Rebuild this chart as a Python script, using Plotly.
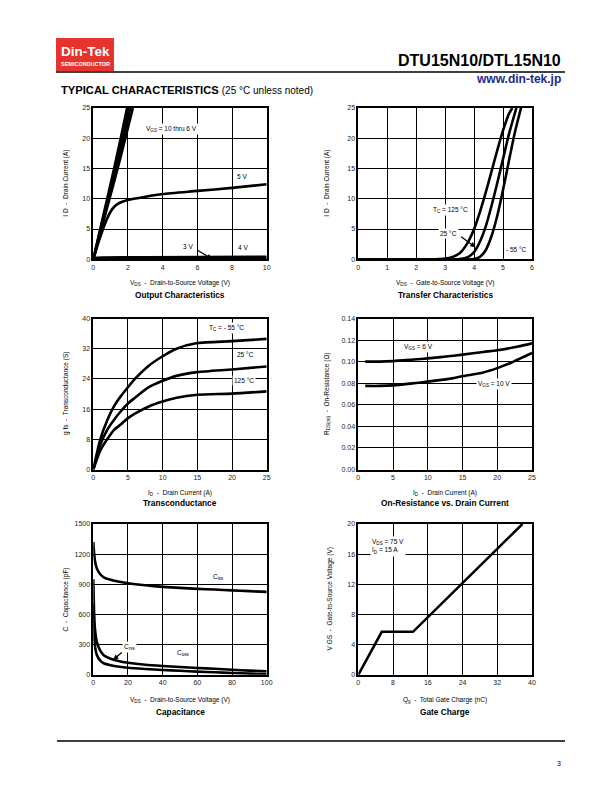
import plotly.graph_objects as go

W, H = 612, 792
FONT = "Liberation Sans, Arial, sans-serif"

# ---------------- DATA ----------------
# Output characteristics (VDS, ID)
out_vgs_high_x = [0, 0.4, 0.8, 1.2, 1.58, 1.95]
out_vgs_high_y = [0, 5, 10, 15, 20, 25]
out_vgs_high_scales = [1.0, 1.05, 1.1, 1.17]   # 10 V, 8 V, 7 V, 6 V bundle
out_5v_x = [0, 0.25, 0.5, 0.75, 1.0, 1.25, 1.5, 2.0, 3.0, 4.0, 6.0, 8.0, 10.0]
out_5v_y = [0, 2.4, 4.5, 6.4, 7.9, 8.8, 9.3, 9.8, 10.35, 10.8, 11.3, 11.8, 12.4]
out_4v_x = [0, 0.2, 0.5, 3.0, 10.0]
out_4v_y = [0, 0.25, 0.3, 0.35, 0.4]
out_3v_x = [0, 10]
out_3v_y = [0.05, 0.05]

# Transfer characteristics (VGS, ID)
tr_125_x = [0, 2.8, 3.2, 3.5, 3.75, 4.0, 4.2, 4.4, 4.6, 4.8, 5.0, 5.2, 5.32]
tr_125_y = [0, 0.05, 0.3, 1.0, 2.5, 5.0, 7.8, 11.0, 14.5, 18.0, 21.3, 24.0, 25.0]
tr_25_x = [0, 3.5, 3.8, 4.0, 4.2, 4.4, 4.6, 4.8, 5.0, 5.2, 5.46]
tr_25_y = [0, 0.05, 0.4, 1.2, 2.9, 5.4, 8.8, 12.6, 16.6, 20.6, 25.0]
tr_m55_x = [0, 4.0, 4.2, 4.4, 4.6, 4.8, 5.0, 5.2, 5.4, 5.62]
tr_m55_y = [0, 0.05, 0.4, 1.5, 3.8, 7.2, 11.5, 16.2, 20.8, 25.0]

# Transconductance (ID, gfs)
gfs_id = [0, 1, 2, 3, 4, 5, 6, 8, 10, 12, 15, 20, 25]
gfs_m55 = [0, 8, 13, 16.8, 19.5, 21.8, 24, 27.5, 30, 32, 33.5, 34, 34.6]
gfs_25 = [0, 6.5, 10.5, 13.2, 15.5, 17.5, 19, 21.8, 23.5, 24.8, 25.8, 26.5, 27.3]
gfs_125 = [0, 5, 8, 10.5, 12, 13.6, 14.8, 16.7, 18, 19, 19.8, 20.1, 20.7]

# On-resistance (ID, RDS(on))
rds_6v_x = [1, 3, 5, 8, 10, 13, 15, 18, 20, 23, 25]
rds_6v_y = [0.100, 0.100, 0.1005, 0.102, 0.103, 0.105, 0.1065, 0.109, 0.1105, 0.114, 0.117]
rds_10v_x = [1, 3, 5, 8, 10, 13, 15, 18, 20, 22, 24, 25]
rds_10v_y = [0.0775, 0.0775, 0.078, 0.080, 0.0815, 0.084, 0.0865, 0.090, 0.094, 0.099, 0.105, 0.108]

# Capacitance (VDS, pF)
cap_vds = [0, 0.5, 1, 2, 4, 6, 10, 15, 20, 30, 40, 50, 60, 70, 80, 90, 100]
cap_ciss = [1320, 1200, 1130, 1060, 1000, 970, 945, 925, 910, 890, 875, 865, 855, 848, 840, 832, 825]
cap_coss = [950, 600, 450, 330, 240, 195, 160, 135, 120, 100, 88, 78, 68, 60, 50, 42, 35]
cap_crss = [700, 400, 280, 200, 140, 115, 95, 80, 70, 58, 48, 40, 32, 25, 18, 12, 8]

# Gate charge (Qg, VGS)
gc_qg = [0, 5.4, 12.6, 37.8]
gc_vgs = [0, 5.7, 5.7, 20]

# Tick values
tick_out_x = [0, 2, 4, 6, 8, 10]
tick_out_y = [0, 5, 10, 15, 20, 25]
tick_tr_x = [0, 1, 2, 3, 4, 5, 6]
tick_gfs_x = [0, 5, 10, 15, 20, 25]
tick_gfs_y = [0, 8, 16, 24, 32, 40]
tick_rds_y = [0.00, 0.02, 0.04, 0.06, 0.08, 0.10, 0.12, 0.14]
tick_rds_ylab = ["0.00", "0.02", "0.04", "0.06", "0.08", "0.10", "0.12", "0.14"]
tick_cap_x = [0, 20, 40, 60, 80, 100]
tick_cap_y = [0, 300, 600, 900, 1200, 1500]
tick_gc_x = [0, 8, 16, 24, 32, 40]
tick_gc_y = [0, 4, 8, 12, 16, 20]

# ---------------- LAYOUT HELPERS ----------------
def px(x):
    return x / W


def py(y):
    return 1 - y / H


LX = [93.3, 266.7]
RX = [358.3, 532.0]
ROWS = [[108, 259.3], [318.5, 469.5], [524, 674.8]]

fig = go.Figure()
LW = 2.6

def line(x, y, ax):
    xa = "x" if ax == 1 else f"x{ax}"
    ya = "y" if ax == 1 else f"y{ax}"
    fig.add_trace(go.Scatter(x=x, y=y, mode="lines", xaxis=xa, yaxis=ya,
                             line=dict(color="black", width=LW, shape="spline", smoothing=0.6),
                             showlegend=False, hoverinfo="skip"))

# Plot 1
for s in out_vgs_high_scales:
    line([v * s for v in out_vgs_high_x], out_vgs_high_y, 1)
line(out_5v_x, out_5v_y, 1)
line(out_4v_x, out_4v_y, 1)
line(out_3v_x, out_3v_y, 1)
# Plot 2
line(tr_125_x, tr_125_y, 2)
line(tr_25_x, tr_25_y, 2)
line(tr_m55_x, tr_m55_y, 2)
# Plot 3
line(gfs_id, gfs_m55, 3)
line(gfs_id, gfs_25, 3)
line(gfs_id, gfs_125, 3)
# Plot 4
line(rds_6v_x, rds_6v_y, 4)
line(rds_10v_x, rds_10v_y, 4)
# Plot 5
line(cap_vds, cap_ciss, 5)
line(cap_vds, cap_coss, 5)
line(cap_vds, cap_crss, 5)
# Plot 6
fig.add_trace(go.Scatter(x=gc_qg, y=gc_vgs, mode="lines", xaxis="x6", yaxis="y6",
                         line=dict(color="black", width=LW), showlegend=False, hoverinfo="skip"))

tickfont = dict(family=FONT, size=7, color="#222222")

def axis(domain_px, rng, tv, tt=None, is_x=True):
    if is_x:
        dom = [px(domain_px[0]), px(domain_px[1])]
    else:
        dom = [py(domain_px[1]), py(domain_px[0])]
    d = dict(domain=dom, range=rng, tickvals=tv, showgrid=True, gridcolor="black", gridwidth=1.2,
             zeroline=False, showline=True, mirror=True, linecolor="black", linewidth=1.6,
             ticks="", tickfont=tickfont, fixedrange=True, ticklen=0, automargin=False)
    if tt is not None:
        d["ticktext"] = tt
    return d

specs = [
    (LX, ROWS[0], [0, 10], tick_out_x, [0, 25], tick_out_y, None),
    (RX, ROWS[0], [0, 6], tick_tr_x, [0, 25], tick_out_y, None),
    (LX, ROWS[1], [0, 25], tick_gfs_x, [0, 40], tick_gfs_y, None),
    (RX, ROWS[1], [0, 25], tick_gfs_x, [0, 0.14], tick_rds_y, tick_rds_ylab),
    (LX, ROWS[2], [0, 100], tick_cap_x, [0, 1500], tick_cap_y, None),
    (RX, ROWS[2], [0, 40], tick_gc_x, [0, 20], tick_gc_y, None),
]
layout = {}
for i, (xd, yd, xr, xt, yr, yt, ytt) in enumerate(specs, start=1):
    xk = "xaxis" if i == 1 else f"xaxis{i}"
    yk = "yaxis" if i == 1 else f"yaxis{i}"
    xa = axis(xd, xr, xt, None, True)
    ya = axis(yd, yr, yt, ytt, False)
    xa["anchor"] = "y" if i == 1 else f"y{i}"
    ya["anchor"] = "x" if i == 1 else f"x{i}"
    layout[xk] = xa
    layout[yk] = ya

fig.update_layout(**layout)

ann = []
shapes = []

def ptext(x, y, text, size=7, xanchor="center", yanchor="middle", bold=False, color="black", angle=0):
    t = f"<b>{text}</b>" if bold else text
    ann.append(dict(x=px(x), y=py(y), xref="paper", yref="paper", text=t, showarrow=False,
                    xanchor=xanchor, yanchor=yanchor, textangle=angle,
                    font=dict(family=FONT, size=size, color=color)))

def dtext(ax, x, y, text, size=6.5, xanchor="center", arrow=None, align="center"):
    xr = "x" if ax == 1 else f"x{ax}"
    yr = "y" if ax == 1 else f"y{ax}"
    d = dict(x=x, y=y, xref=xr, yref=yr, text=text, showarrow=False, xanchor=xanchor,
             yanchor="middle", bgcolor="white", borderpad=1, align=align,
             font=dict(family=FONT, size=size, color="black"))
    ann.append(d)
    if arrow is not None:
        (x0, y0), (x1, y1) = arrow
        ann.append(dict(x=x1, y=y1, ax=x0, ay=y0, xref=xr, yref=yr, axref=xr, ayref=yr,
                        text="", showarrow=True, arrowhead=2, arrowsize=0.8, arrowwidth=1.3,
                        arrowcolor="black"))

# Header
shapes.append(dict(type="rect", xref="paper", yref="paper", x0=px(56), x1=px(114), y0=py(71), y1=py(38),
                   fillcolor="#e5332e", line=dict(width=0)))
ptext(85.5, 52, "Din-Tek", size=13.5, bold=True, color="white")
ptext(85.5, 64.5, "SEMICONDUCTOR", size=5.5, bold=True, color="white")
shapes.append(dict(type="line", xref="paper", yref="paper", x0=px(56), x1=px(565), y0=py(72), y1=py(72),
                   line=dict(color="black", width=1.3)))
ptext(563, 61, "DTU15N10/DTL15N10", size=16, bold=True, xanchor="right")
ptext(563, 79.5, "www.din-tek.jp", size=12, bold=True, xanchor="right", color="#1b2a8a")
ann.append(dict(x=px(59), y=py(90), xref="paper", yref="paper", showarrow=False, xanchor="left",
                yanchor="middle",
                text="<b>TYPICAL CHARACTERISTICS</b> <span style='font-size:10px'>(25 °C unless noted)</span>",
                font=dict(family=FONT, size=11.2, color="black")))

# Footer
shapes.append(dict(type="line", xref="paper", yref="paper", x0=px(57), x1=px(565), y0=py(741), y1=py(741),
                   line=dict(color="black", width=1.3)))
ptext(563, 763, "3", size=7, xanchor="right")

# Axis titles and chart titles
titles = [
    (LX, 283, 295, "V<sub>DS</sub>  -  Drain-to-Source Voltage (V)", "Output Characteristics",
     66, ROWS[0], "I D  -  Drain Current (A)"),
    (RX, 283, 295, "V<sub>DS</sub>  -  Gate-to-Source Voltage (V)", "Transfer Characteristics",
     327, ROWS[0], "I D  -  Drain Current (A)"),
    (LX, 493, 503, "I<sub>D</sub>  -  Drain Current (A)", "Transconductance",
     66, ROWS[1], "g fs  -  Transconductance (S)"),
    (RX, 493, 503, "I<sub>D</sub>  -  Drain Current (A)", "On-Resistance vs. Drain Current",
     327, ROWS[1], "R<sub>DS(on)</sub>  -  On-Resistance (Ω)"),
    (LX, 700, 712, "V<sub>DS</sub>  -  Drain-to-Source Voltage (V)", "Capacitance",
     66, ROWS[2], "C  -  Capacitance (pF)"),
    (RX, 700, 712, "Q<sub>g</sub>  -  Total Gate Charge (nC)", "Gate Charge",
     330, ROWS[2], "V GS  -  Gate-to-Source Voltage (V)"),
]
for xd, ay, ty, xt, tt, yx, yd, yt in titles:
    cx = (xd[0] + xd[1]) / 2
    ptext(cx, ay, xt, size=6.5)
    ptext(cx, ty, tt, size=8.3, bold=True)
    ptext(yx, (yd[0] + yd[1]) / 2, yt, size=6.5, angle=-90)

# Curve labels
dtext(1, 4.5, 21.5, "V<sub>GS</sub> = 10 thru 6 V")
dtext(1, 8.6, 13.6, "5 V")
dtext(1, 5.45, 2.1, "3 V", arrow=((5.95, 1.6), (6.85, 0.05)))
dtext(1, 8.65, 2.0, "4 V")

dtext(2, 3.2, 8.2, "T<sub>C</sub> = 125 °C")
dtext(2, 3.1, 4.3, "25 °C", arrow=((3.5, 3.9), (4.05, 2.0)))
dtext(2, 5.45, 1.7, "- 55 °C")

dtext(3, 19.2, 37.4, "T<sub>C</sub> = - 55 °C")
dtext(3, 21.9, 30.5, "25 °C")
dtext(3, 21.7, 23.5, "125 °C")

dtext(4, 8.6, 0.1135, "V<sub>GS</sub> = 6 V")
dtext(4, 19.6, 0.079, "V<sub>GS</sub> = 10 V")

dtext(5, 72, 970, "C<sub>iss</sub>")
dtext(5, 52, 220, "C<sub>oss</sub>")
dtext(5, 20.6, 276, "C<sub>rss</sub>", arrow=((17.3, 233), (11.5, 150)))

dtext(6, 2.8, 17.0, "V<sub>DS</sub> = 75 V<br>I<sub>D</sub> = 15 A", xanchor="left", align="left")

fig.update_layout(width=W, height=H, margin=dict(l=0, r=0, t=0, b=0, pad=0, autoexpand=False),
                  paper_bgcolor="white", plot_bgcolor="white",
                  annotations=ann, shapes=shapes, showlegend=False,
                  font=dict(family=FONT, color="black"))

fig.write_html("out.html", config={"displayModeBar": False},
               post_script="document.body.style.margin='0';document.body.style.overflow='hidden';")
